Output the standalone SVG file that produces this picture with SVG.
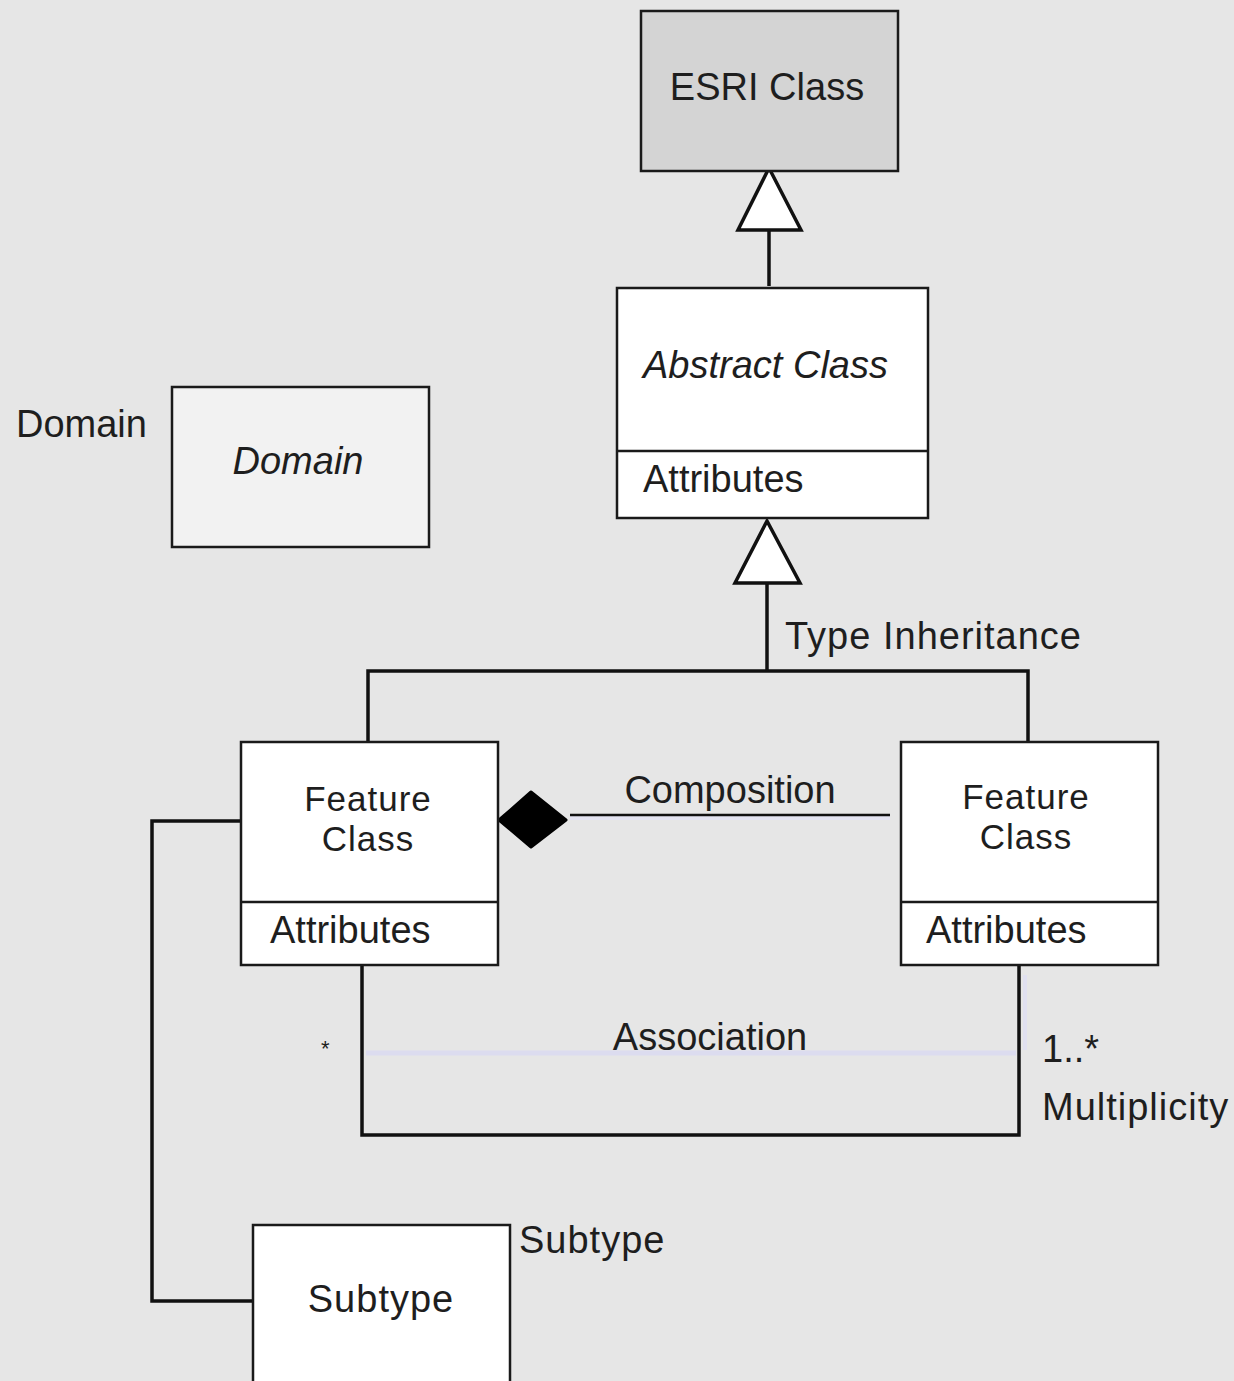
<svg xmlns="http://www.w3.org/2000/svg" width="1234" height="1381" viewBox="0 0 1234 1381">
  <style>
    .box { fill: #ffffff; stroke: #1a1a1a; stroke-width: 2.5; }
    .esri { fill: #d4d4d4; }
    .dom { fill: #f2f2f2; }
    .txt { font-family: "Liberation Sans", Arial, sans-serif; font-size: 38px; fill: #1e1e1e; }
    .two { font-size: 35px; }
    .wide { letter-spacing: 1px; }
    .it { font-style: italic; }
    .mid { text-anchor: middle; }
    .edge { fill: none; stroke: #111111; stroke-width: 3.5; }
    .thin { fill: none; stroke: #111111; stroke-width: 2.5; }
    .faint { fill: none; stroke: #dcdcef; stroke-width: 5; }
    .gen { fill: #ffffff; stroke: #111111; stroke-width: 3.5; stroke-linejoin: miter; }
  </style>

  <rect width="1234" height="1381" fill="#e6e6e6"/>

  <!-- connectors -->
  <g id="connectors">
    <!-- generalisation: Abstract Class -> ESRI Class -->
    <line class="edge" x1="769" y1="230" x2="769" y2="286"/>
    <polygon class="gen" points="769,168 738,230 801,230"/>

    <!-- type inheritance: Feature Classes -> Abstract Class -->
    <path class="edge" d="M368,742 V671 H1028 V742"/>
    <line class="edge" x1="767" y1="583" x2="767" y2="671"/>
    <polygon class="gen" points="767,521 735,583 800,583"/>

    <!-- composition -->
    <line x1="570" y1="818" x2="890" y2="818" stroke="#e4e4f2" stroke-width="4"/>
    <line class="thin" x1="570" y1="815" x2="890" y2="815"/>
    <polygon points="499,820 531,792 566,820 531,847" fill="#000000" stroke="#000000" stroke-width="3" stroke-linejoin="round"/>

    <!-- association -->
    <line class="faint" x1="366" y1="1053" x2="1016" y2="1053"/>
    <line x1="1025" y1="975" x2="1025" y2="1050" stroke="#e0e0f0" stroke-width="4"/>
    <path class="edge" d="M362,962 V1135 H1019 V960"/>

    <!-- subtype -->
    <path class="edge" d="M241,821 H152 V1301 H253"/>
  </g>

  <!-- ESRI Class -->
  <g id="esri-class">
    <rect class="box esri" x="641" y="11" width="257" height="160"/>
    <text class="txt mid" x="767" y="100">ESRI Class</text>
  </g>

  <!-- Abstract Class -->
  <g id="abstract-class">
    <rect class="box" x="617" y="288" width="311" height="230"/>
    <line class="box" x1="617" y1="451" x2="928" y2="451"/>
    <text class="txt it" x="643" y="378">Abstract Class</text>
    <text class="txt" x="643" y="492">Attributes</text>
  </g>

  <!-- Domain -->
  <g id="domain">
    <text class="txt" x="16" y="437">Domain</text>
    <rect class="box dom" x="172" y="387" width="257" height="160"/>
    <text class="txt it mid" x="298" y="474">Domain</text>
  </g>

  <!-- Feature Class (left) -->
  <g id="feature-class-left">
    <rect class="box" x="241" y="742" width="257" height="223"/>
    <line class="box" x1="241" y1="902" x2="498" y2="902"/>
    <text class="txt two wide mid" x="368" y="811">Feature</text>
    <text class="txt two wide mid" x="368" y="851">Class</text>
    <text class="txt" x="270" y="943">Attributes</text>
  </g>

  <!-- Feature Class (right) -->
  <g id="feature-class-right">
    <rect class="box" x="901" y="742" width="257" height="223"/>
    <line class="box" x1="901" y1="902" x2="1158" y2="902"/>
    <text class="txt two wide mid" x="1026" y="809">Feature</text>
    <text class="txt two wide mid" x="1026" y="849">Class</text>
    <text class="txt" x="926" y="943">Attributes</text>
  </g>

  <!-- Subtype -->
  <g id="subtype">
    <rect class="box" x="253" y="1225" width="257" height="170"/>
    <text class="txt wide mid" x="381" y="1312">Subtype</text>
    <text class="txt wide" x="519" y="1253">Subtype</text>
  </g>

  <!-- connector labels -->
  <g id="labels">
    <text class="txt wide" x="785" y="649">Type Inheritance</text>
    <text class="txt mid" x="730" y="803">Composition</text>
    <text class="txt mid" x="710" y="1050">Association</text>
    <text class="txt" x="321" y="1056" style="font-size:22px">*</text>
    <text class="txt" x="1042" y="1062">1..*</text>
    <text class="txt wide" x="1042" y="1120">Multiplicity</text>
  </g>
</svg>
